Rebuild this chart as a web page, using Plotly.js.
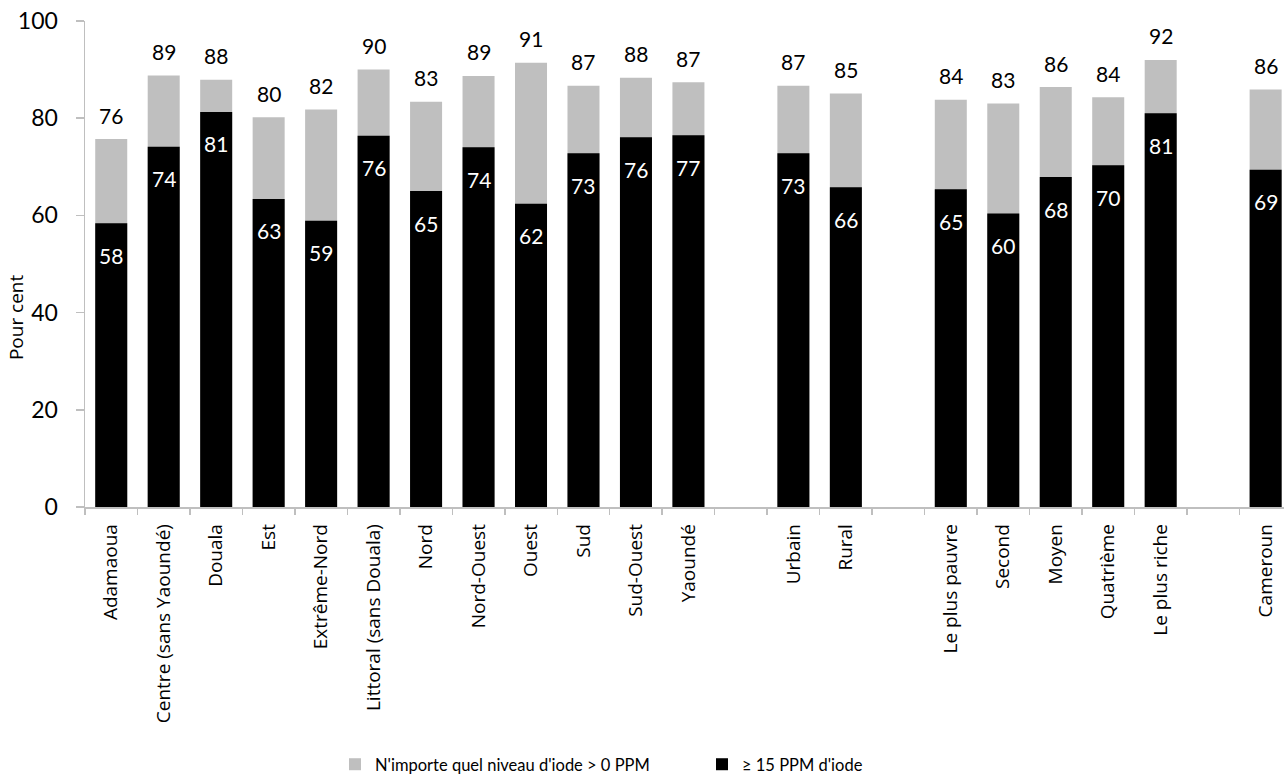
<!DOCTYPE html>
<html>
<head>
<meta charset="utf-8">
<script src="https://cdn.plot.ly/plotly-3.0.1.min.js"></script>
<style>html,body{margin:0;padding:0;overflow:hidden;background:#fff}</style>
</head>
<body>
<div id="chart" style="width:1284px;height:782px"></div>
<script>
const categories = ["Adamaoua","Centre (sans Yaoundé)","Douala","Est","Extrême-Nord","Littoral (sans Douala)","Nord","Nord-Ouest","Ouest","Sud","Sud-Ouest","Yaoundé"," ","Urbain","Rural","  ","Le plus pauvre","Second","Moyen","Quatrième","Le plus riche","   ","Cameroun"];
const anyIodine = [75.7,88.8,87.9,80.2,81.8,90.0,83.4,88.7,91.4,86.7,88.3,87.4,null,86.7,85.1,null,83.8,83.0,86.4,84.3,92.0,null,85.9];
const anyLabels = ["76","89","88","80","82","90","83","89","91","87","88","87","","87","85","","84","83","86","84","92","","86"];
const iodine15 = [58.4,74.1,81.3,63.4,58.9,76.4,65.0,74.0,62.4,72.8,76.1,76.5,null,72.8,65.8,null,65.4,60.4,67.9,70.3,81.0,null,69.4];
const labels15 = ["58","74","81","63","59","76","65","74","62","73","76","77","","73","66","","65","60","68","70","81","","69"];
const seriesNames = ["N'importe quel niveau d'iode > 0 PPM","≥ 15 PPM d'iode"];

const numFont = "Lato, 'Open Sans', sans-serif";
const catFont = "'Open Sans', sans-serif";

const traces = [
  {type:'bar', x:categories, y:anyIodine, name:seriesNames[0], marker:{color:'#bfbfbf'}, hoverinfo:'skip'},
  {type:'bar', x:categories, y:iodine15, name:seriesNames[1], marker:{color:'#000000'}, hoverinfo:'skip'}
];

const annotations = [];
categories.forEach((c,i)=>{
  if(anyIodine[i]!==null){
    annotations.push({x:c, y:anyIodine[i], xref:'x', yref:'y', text:anyLabels[i], showarrow:false, yshift:24, yanchor:'middle', font:{family:numFont,size:21,color:'#000'}});
  }
  if(iodine15[i]!==null){
    annotations.push({x:c, y:iodine15[i], xref:'x', yref:'y', text:labels15[i], showarrow:false, yshift:-32, yanchor:'middle', font:{family:numFont,size:21,color:'#fff'}});
  }
});
annotations.push({xref:'paper', yref:'paper', x:-0.057, y:0.39, text:'Pour cent', textangle:-90, showarrow:false, xanchor:'center', yanchor:'middle', font:{family:catFont,size:19,color:'#000'}});

const layout = {
  width:1284, height:782,
  margin:{l:85, r:0, t:21, b:272},
  barmode:'overlay',
  bargap:0.39,
  paper_bgcolor:'#fff', plot_bgcolor:'#fff',
  showlegend:true,
  legend:{orientation:'h', x:0.2085, xanchor:'left', y:-0.53, yanchor:'middle', font:{family:numFont,size:16.5,color:'#000'}, entrywidth:322, entrywidthmode:'pixels', traceorder:'normal'},
  xaxis:{
    type:'category', range:[-0.5,22.35], tickson:'boundaries', ticks:'outside', ticklen:6, tickcolor:'#bfbfbf', tickwidth:1.5,
    showline:true, linecolor:'#bfbfbf', linewidth:1.5, showgrid:false, tickangle:-90,
    tickfont:{family:catFont,size:19,color:'#000'}, ticklabelstandoff:8, automargin:false
  },
  yaxis:{
    range:[0,100], tickvals:[0,20,40,60,80,100], ticks:'outside', ticklen:8, tickcolor:'#bfbfbf', tickwidth:1.5,
    showline:true, linecolor:'#bfbfbf', linewidth:1.5, showgrid:false, zeroline:false,
    tickfont:{family:numFont,size:23,color:'#000'}, ticklabelstandoff:13, automargin:false
  },
  annotations:annotations
};

Plotly.newPlot('chart', traces, layout, {displayModeBar:false, staticPlot:true});
</script>
</body>
</html>
